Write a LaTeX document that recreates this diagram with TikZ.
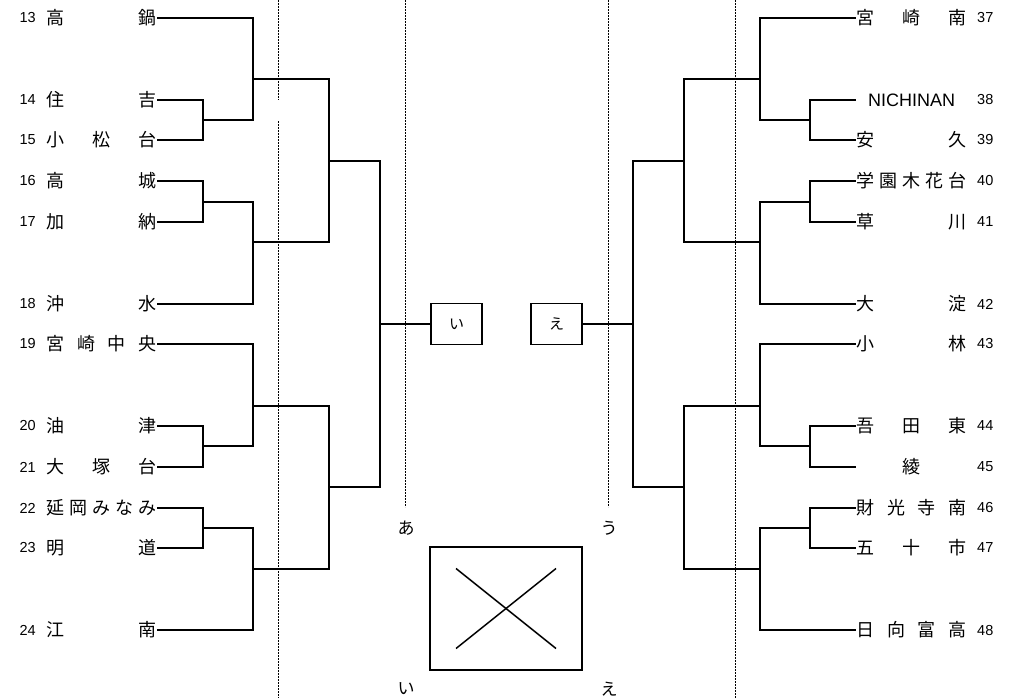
\documentclass[tikz,border=0pt]{standalone}
\usepackage{fontspec}
\setmainfont{Liberation Sans}
\newfontfamily\jp{Noto Sans CJK JP}
\usepackage{tikz}

\newcommand\spread[1]{\hbox to 110pt{#1}}

\tikzset{
  team/.style={inner sep=0pt,outer sep=1.5pt,font=\jp\fontsize{18}{18}\selectfont},
  num/.style={inner sep=0pt,font=\fontsize{14.5}{14.5}\selectfont},
  bracket/.style={draw,line width=1.6pt,line cap=rect},
  hv/.style={bracket,to path={-| (\tikztotarget)}},
  vh/.style={bracket,to path={|- (\tikztotarget)}},
  guide/.style={line width=1.3pt,dash pattern=on 2pt off 1pt},
  pick/.style={draw,line width=1.6pt,minimum width=51pt,minimum height=41pt,inner sep=0pt,
    font=\jp\fontsize{15}{15}\selectfont},
  kana/.style={font=\jp\fontsize{17}{17}\selectfont,inner sep=0pt}
}

\begin{document}
\begin{tikzpicture}[x=1pt,y=-1pt]
        \useasboundingbox (0,0) rectangle (1024,698);

        % left block
        \node[team,anchor=east,label={[num,label distance=9pt]left:13}] (t13) at (158,18)  {\spread{高\hfill 鍋}};
        \node[team,anchor=east,label={[num,label distance=9pt]left:14}] (t14) at (158,100) {\spread{住\hfill 吉}};
        \node[team,anchor=east,label={[num,label distance=9pt]left:15}] (t15) at (158,140) {\spread{小\hfill 松\hfill 台}};
        \node[team,anchor=east,label={[num,label distance=9pt]left:16}] (t16) at (158,181) {\spread{高\hfill 城}};
        \node[team,anchor=east,label={[num,label distance=9pt]left:17}] (t17) at (158,222) {\spread{加\hfill 納}};
        \node[team,anchor=east,label={[num,label distance=9pt]left:18}] (t18) at (158,304) {\spread{沖\hfill 水}};
        \node[team,anchor=east,label={[num,label distance=9pt]left:19}] (t19) at (158,344) {\spread{宮\hfill 崎\hfill 中\hfill 央}};
        \node[team,anchor=east,label={[num,label distance=9pt]left:20}] (t20) at (158,426) {\spread{油\hfill 津}};
        \node[team,anchor=east,label={[num,label distance=9pt]left:21}] (t21) at (158,467) {\spread{大\hfill 塚\hfill 台}};
        \node[team,anchor=east,label={[num,label distance=9pt]left:22}] (t22) at (158,508) {\spread{延\hfill 岡\hfill み\hfill な\hfill み}};
        \node[team,anchor=east,label={[num,label distance=9pt]left:23}] (t23) at (158,548) {\spread{明\hfill 道}};
        \node[team,anchor=east,label={[num,label distance=9pt]left:24}] (t24) at (158,630) {\spread{江\hfill 南}};

        % right block
        \node[team,anchor=west,label={[num,label distance=9pt]right:37}] (t37) at (855,18)  {\spread{宮\hfill 崎\hfill 南}};
        \node[team,anchor=west,label={[num,label distance=9pt]right:38}] (t38) at (855,100) {\spread{\hfill\fontsize{18}{18}\rmfamily NICHINAN\hfill}};
        \node[team,anchor=west,label={[num,label distance=9pt]right:39}] (t39) at (855,140) {\spread{安\hfill 久}};
        \node[team,anchor=west,label={[num,label distance=9pt]right:40}] (t40) at (855,181) {\spread{学\hfill 園\hfill 木\hfill 花\hfill 台}};
        \node[team,anchor=west,label={[num,label distance=9pt]right:41}] (t41) at (855,222) {\spread{草\hfill 川}};
        \node[team,anchor=west,label={[num,label distance=9pt]right:42}] (t42) at (855,304) {\spread{大\hfill 淀}};
        \node[team,anchor=west,label={[num,label distance=9pt]right:43}] (t43) at (855,344) {\spread{小\hfill 林}};
        \node[team,anchor=west,label={[num,label distance=9pt]right:44}] (t44) at (855,426) {\spread{吾\hfill 田\hfill 東}};
        \node[team,anchor=west,label={[num,label distance=9pt]right:45}] (t45) at (855,467) {\spread{\hfill 綾\hfill}};
        \node[team,anchor=west,label={[num,label distance=9pt]right:46}] (t46) at (855,508) {\spread{財\hfill 光\hfill 寺\hfill 南}};
        \node[team,anchor=west,label={[num,label distance=9pt]right:47}] (t47) at (855,548) {\spread{五\hfill 十\hfill 市}};
        \node[team,anchor=west,label={[num,label distance=9pt]right:48}] (t48) at (855,630) {\spread{日\hfill 向\hfill 富\hfill 高}};

        % joints
        \coordinate (a1) at (203,120); \coordinate (a2) at (203,202);
        \coordinate (a3) at (203,446); \coordinate (a4) at (203,528);
        \coordinate (b1) at (253,79);  \coordinate (b2) at (253,242);
        \coordinate (b3) at (253,406); \coordinate (b4) at (253,569);
        \coordinate (c1) at (329,161); \coordinate (c2) at (329,487);
        \coordinate (dL) at (380,324);

        \coordinate (e1) at (810,120); \coordinate (e2) at (810,202);
        \coordinate (e3) at (810,446); \coordinate (e4) at (810,528);
        \coordinate (f1) at (760,79);  \coordinate (f2) at (760,242);
        \coordinate (f3) at (760,406); \coordinate (f4) at (760,569);
        \coordinate (g1) at (684,161); \coordinate (g2) at (684,487);
        \coordinate (dR) at (633,324);

        % guides
        \draw[guide] (278.5,0) -- (278.5,100);
        \draw[guide] (278.5,121) -- (278.5,698);
        \draw[guide] (405.5,0) -- (405.5,507);
        \draw[guide] (608.5,0) -- (608.5,507);
        \draw[guide] (735.5,0) -- (735.5,698);

        \node[pick] (boxI) at (456.5,324) {い};
        \node[pick] (boxE) at (556.5,324) {え};

        \path

        (t14.east) edge[hv] (a1) (a1) edge[vh] (t15.east)
        (t16.east) edge[hv] (a2) (a2) edge[vh] (t17.east)
        (t20.east) edge[hv] (a3) (a3) edge[vh] (t21.east)
        (t22.east) edge[hv] (a4) (a4) edge[vh] (t23.east)

        (t13.east) edge[hv] (b1) (b1) edge[vh] (a1)
        (a2) edge[hv] (b2) (b2) edge[vh] (t18.east)
        (t19.east) edge[hv] (b3) (b3) edge[vh] (a3)
        (a4) edge[hv] (b4) (b4) edge[vh] (t24.east)

        (b1) edge[hv] (c1) (c1) edge[vh] (b2)
        (b3) edge[hv] (c2) (c2) edge[vh] (b4)
        (c1) edge[hv] (dL) (dL) edge[vh] (c2)
        (dL) edge[bracket] (boxI)

        (t38.west) edge[hv] (e1) (e1) edge[vh] (t39.west)
        (t40.west) edge[hv] (e2) (e2) edge[vh] (t41.west)
        (t44.west) edge[hv] (e3) (e3) edge[vh] (t45.west)
        (t46.west) edge[hv] (e4) (e4) edge[vh] (t47.west)

        (t37.west) edge[hv] (f1) (f1) edge[vh] (e1)
        (e2) edge[hv] (f2) (f2) edge[vh] (t42.west)
        (t43.west) edge[hv] (f3) (f3) edge[vh] (e3)
        (e4) edge[hv] (f4) (f4) edge[vh] (t48.west)

        (f1) edge[hv] (g1) (g1) edge[vh] (f2)
        (f3) edge[hv] (g2) (g2) edge[vh] (f4)
        (g1) edge[hv] (dR) (dR) edge[vh] (g2)
        (dR) edge[bracket] (boxE)
        ;

        % no match box
        \node[draw,line width=1.6pt,minimum width=152pt,minimum height=123pt,inner sep=0pt] (nogame) at (506,608.5) {};
        \draw[line width=1.5pt] ([shift={(-50,-40)}]nogame.center) -- ([shift={(50,40)}]nogame.center);
        \draw[line width=1.5pt] ([shift={(-50,40)}]nogame.center) -- ([shift={(50,-40)}]nogame.center);

        \node[kana] (ka) at (406,528) {あ};
        \node[kana] (ku) at (609,528) {う};
        \node[kana] (ki) at (406,689) {い};
        \node[kana] (ke) at (609,689) {え};
\end{tikzpicture}
\end{document}
